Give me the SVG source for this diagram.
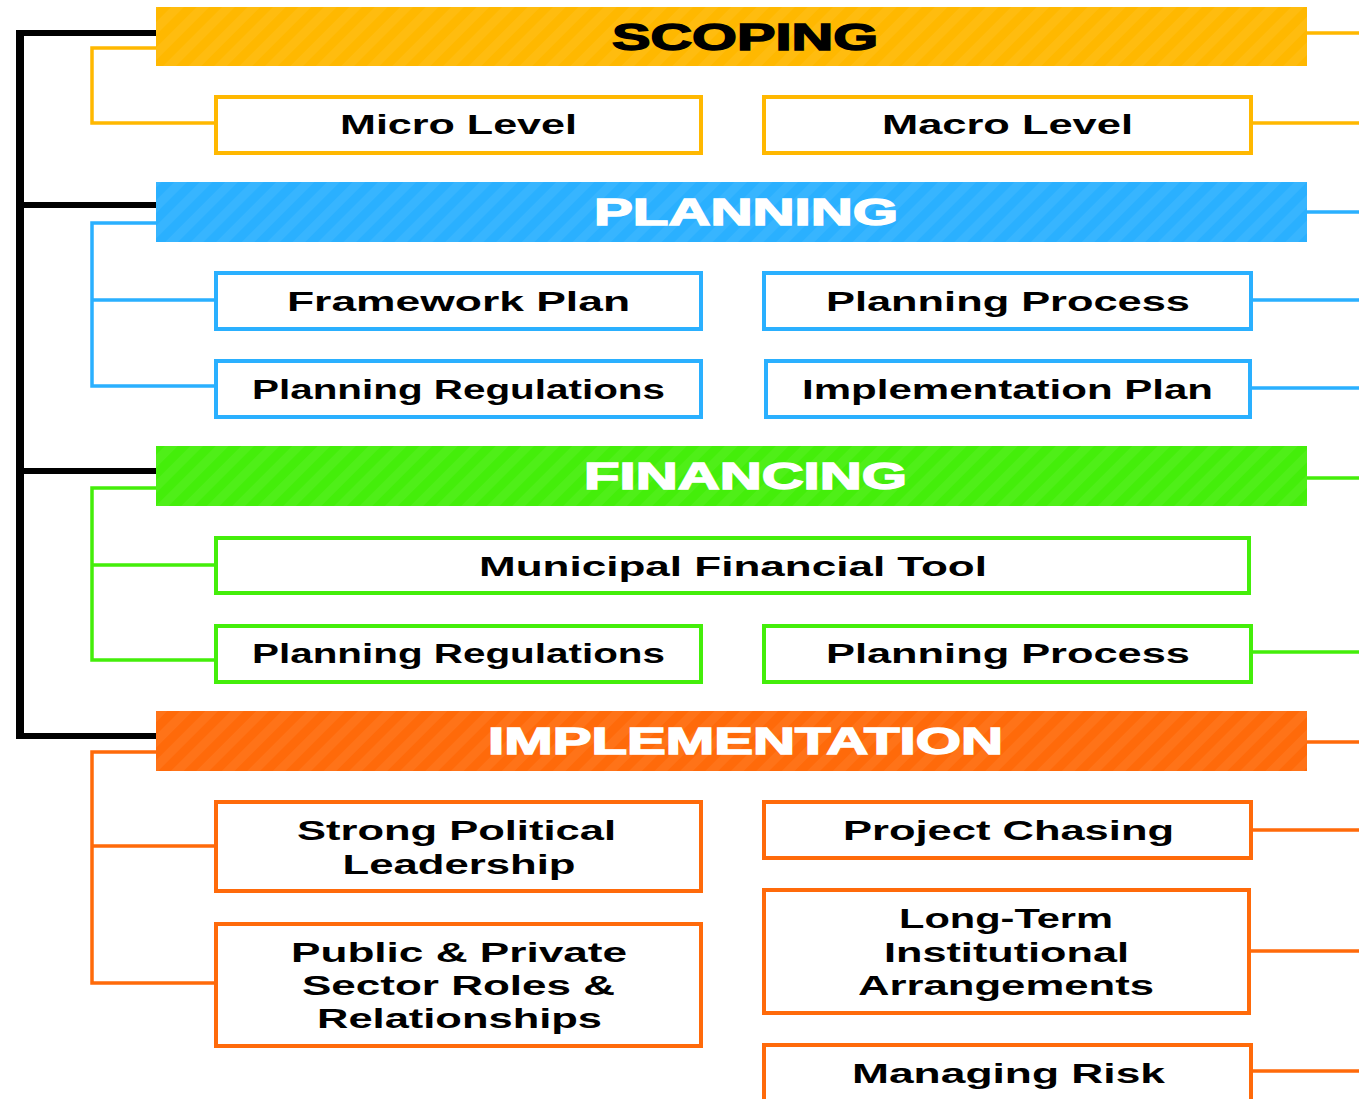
<svg xmlns="http://www.w3.org/2000/svg" width="1359" height="1099" viewBox="0 0 1359 1099">
  <style>
    .hdr-text { font-family: "Liberation Sans", Arial, sans-serif; font-weight: bold; font-size: 36px; text-anchor: middle; stroke-width: 1.4; }
    .lbl { font-family: "Liberation Sans", Arial, sans-serif; font-weight: bold; font-size: 27px; text-anchor: middle; fill: #000; }
    .box { fill: #fff; stroke-width: 4; }
    .wire { fill: none; stroke-width: 3.5; }
    .trunk { fill: none; stroke: #000; }
    .y { stroke: #FFB800; }
    .b { stroke: #2AB0FF; }
    .g { stroke: #44EE0A; }
    .o { stroke: #FF6A0A; }
  </style>
  <defs>
    <pattern id="stripes" width="18" height="18" patternUnits="userSpaceOnUse" patternTransform="rotate(45)">
      <rect width="9" height="18" fill="#fff" fill-opacity="0.06"/>
    </pattern>
  </defs>
  <rect width="1359" height="1099" fill="#fff"/>

  <!-- connectors -->
  <g id="connectors">
    <!-- main black spine -->
    <path class="trunk" stroke-width="8" d="M20 30 V739"/>
    <path class="trunk" stroke-width="6" d="M16 33 H157 M20 205 H157 M20 471 H157 M16 736 H157"/>
    <!-- scoping -->
    <path class="wire y" d="M1307 33 H1359 M157 48 H92 V123 H214 M1253 123 H1359"/>
    <!-- planning -->
    <path class="wire b" d="M1307 212 H1359 M157 223 H92 V386 H214 M92 300 H214 M1253 300 H1359 M1251 388 H1359"/>
    <!-- financing -->
    <path class="wire g" d="M1307 478 H1359 M157 488 H92 V660 H214 M92 565 H214 M1253 652 H1359"/>
    <!-- implementation -->
    <path class="wire o" d="M1307 742 H1359 M157 752 H92 V983 H214 M92 846 H214 M1253 830 H1359 M1250 951 H1359 M1253 1071 H1359"/>
  </g>

  <!-- SCOPING -->
  <g id="scoping">
    <rect x="156" y="7" width="1151" height="59" fill="#FFB800"/>
    <rect x="156" y="7" width="1151" height="59" fill="url(#stripes)"/>
    <text class="hdr-text" x="745" y="50" fill="#000" stroke="#000" textLength="266" lengthAdjust="spacingAndGlyphs">SCOPING</text>
  </g>
  <g id="micro-level">
    <rect class="box y" x="216" y="97" width="485" height="56"/>
    <text class="lbl" x="458.5" y="134" textLength="237" lengthAdjust="spacingAndGlyphs">Micro Level</text>
  </g>
  <g id="macro-level">
    <rect class="box y" x="764" y="97" width="487" height="56"/>
    <text class="lbl" x="1007.5" y="134" textLength="251" lengthAdjust="spacingAndGlyphs">Macro Level</text>
  </g>

  <!-- PLANNING -->
  <g id="planning">
    <rect x="156" y="182" width="1151" height="60" fill="#2AB0FF"/>
    <rect x="156" y="182" width="1151" height="60" fill="url(#stripes)"/>
    <text class="hdr-text" x="746" y="225" fill="#fff" stroke="#fff" textLength="304" lengthAdjust="spacingAndGlyphs">PLANNING</text>
  </g>
  <g id="framework-plan">
    <rect class="box b" x="216" y="273" width="485" height="56"/>
    <text class="lbl" x="458.5" y="311" textLength="343" lengthAdjust="spacingAndGlyphs">Framework Plan</text>
  </g>
  <g id="planning-process-1">
    <rect class="box b" x="764" y="273" width="487" height="56"/>
    <text class="lbl" x="1008" y="311" textLength="364" lengthAdjust="spacingAndGlyphs">Planning Process</text>
  </g>
  <g id="planning-regulations-1">
    <rect class="box b" x="216" y="361" width="485" height="56"/>
    <text class="lbl" x="458.5" y="399" textLength="413" lengthAdjust="spacingAndGlyphs">Planning Regulations</text>
  </g>
  <g id="implementation-plan">
    <rect class="box b" x="766" y="361" width="484" height="56"/>
    <text class="lbl" x="1007.5" y="399" textLength="411" lengthAdjust="spacingAndGlyphs">Implementation Plan</text>
  </g>

  <!-- FINANCING -->
  <g id="financing">
    <rect x="156" y="446" width="1151" height="60" fill="#44EE0A"/>
    <rect x="156" y="446" width="1151" height="60" fill="url(#stripes)"/>
    <text class="hdr-text" x="745.5" y="489" fill="#fff" stroke="#fff" textLength="323" lengthAdjust="spacingAndGlyphs">FINANCING</text>
  </g>
  <g id="municipal-financial-tool">
    <rect class="box g" x="216" y="538" width="1033" height="55"/>
    <text class="lbl" x="733" y="576" textLength="508" lengthAdjust="spacingAndGlyphs">Municipal Financial Tool</text>
  </g>
  <g id="planning-regulations-2">
    <rect class="box g" x="216" y="626" width="485" height="56"/>
    <text class="lbl" x="458.5" y="663" textLength="413" lengthAdjust="spacingAndGlyphs">Planning Regulations</text>
  </g>
  <g id="planning-process-2">
    <rect class="box g" x="764" y="626" width="487" height="56"/>
    <text class="lbl" x="1008" y="663" textLength="364" lengthAdjust="spacingAndGlyphs">Planning Process</text>
  </g>

  <!-- IMPLEMENTATION -->
  <g id="implementation">
    <rect x="156" y="711" width="1151" height="60" fill="#FF6A0A"/>
    <rect x="156" y="711" width="1151" height="60" fill="url(#stripes)"/>
    <text class="hdr-text" x="745.5" y="754" fill="#fff" stroke="#fff" textLength="515" lengthAdjust="spacingAndGlyphs">IMPLEMENTATION</text>
  </g>
  <g id="strong-political-leadership">
    <rect class="box o" x="216" y="802" width="485" height="89"/>
    <text class="lbl" x="456.5" y="840" textLength="319" lengthAdjust="spacingAndGlyphs">Strong Political</text>
    <text class="lbl" x="459" y="874" textLength="233" lengthAdjust="spacingAndGlyphs">Leadership</text>
  </g>
  <g id="project-chasing">
    <rect class="box o" x="764" y="802" width="487" height="56"/>
    <text class="lbl" x="1008.5" y="840" textLength="331" lengthAdjust="spacingAndGlyphs">Project Chasing</text>
  </g>
  <g id="public-private-roles">
    <rect class="box o" x="216" y="924" width="485" height="122"/>
    <text class="lbl" x="459" y="962" textLength="336" lengthAdjust="spacingAndGlyphs">Public &amp; Private</text>
    <text class="lbl" x="458.5" y="995" textLength="313" lengthAdjust="spacingAndGlyphs">Sector Roles &amp;</text>
    <text class="lbl" x="459.5" y="1028" textLength="285" lengthAdjust="spacingAndGlyphs">Relationships</text>
  </g>
  <g id="long-term-arrangements">
    <rect class="box o" x="764" y="890" width="485" height="123"/>
    <text class="lbl" x="1006" y="928" textLength="214" lengthAdjust="spacingAndGlyphs">Long-Term</text>
    <text class="lbl" x="1006.5" y="962" textLength="245" lengthAdjust="spacingAndGlyphs">Institutional</text>
    <text class="lbl" x="1006" y="995" textLength="296" lengthAdjust="spacingAndGlyphs">Arrangements</text>
  </g>
  <g id="managing-risk">
    <rect class="box o" x="764" y="1045" width="487" height="80"/>
    <text class="lbl" x="1008.5" y="1083" textLength="313" lengthAdjust="spacingAndGlyphs">Managing Risk</text>
  </g>
</svg>
